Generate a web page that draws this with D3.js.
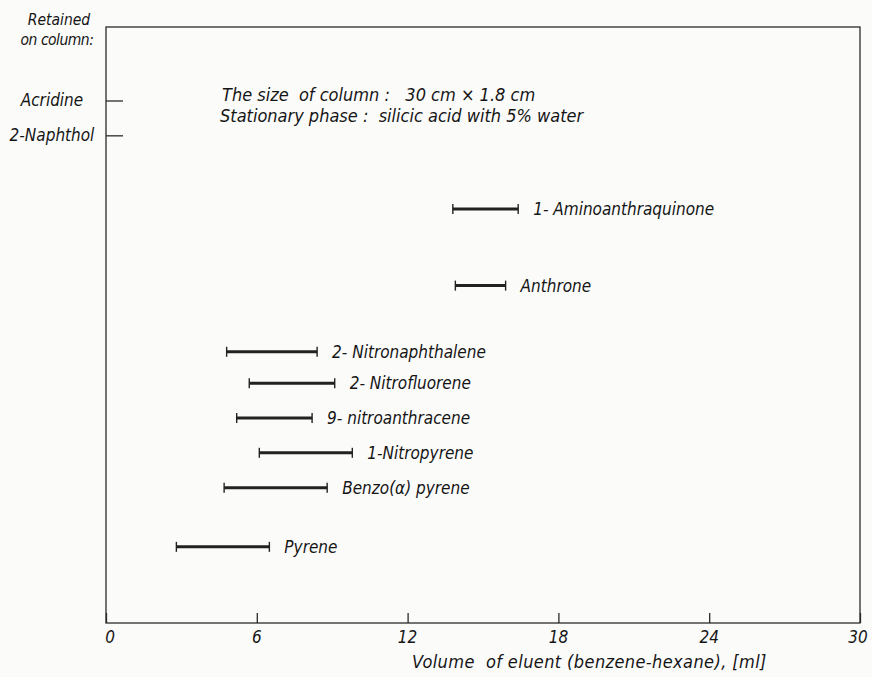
<!DOCTYPE html>
<html>
<head>
<meta charset="utf-8">
<title>Elution ranges on silicic acid column</title>
<script src="https://cdn.jsdelivr.net/npm/d3@7"></script>
<style>
  body { margin: 0; background: #fbfbfa; }
  svg text { font-family: "DejaVu Sans Condensed", "Liberation Sans Narrow", sans-serif; font-style: italic; fill: #151515; }
</style>
</head>
<body>
<div id="chart"></div>
<script>

// compounds eluted, with the eluent volume range (ml)
var compounds = ["1- Aminoanthraquinone", "Anthrone", "2- Nitronaphthalene", "2- Nitrofluorene",
                 "9- nitroanthracene", "1-Nitropyrene", "Benzo(\u03b1) pyrene", "Pyrene"];
var startVol = [13.8, 13.9, 4.8, 5.7, 5.2, 6.1, 4.7, 2.8];
var endVol   = [16.4, 15.9, 8.4, 9.1, 8.2, 9.8, 8.8, 6.5];
// row (vertical slot) of each compound
var rowPos   = [4.1, 6.3, 8.2, 9.1, 10.1, 11.1, 12.1, 13.8];

// compounds that stay on the column
var retained = ["Acridine", "2-Naphthol"];
var retainedRow = [1, 2];

var xTicks = [0, 6, 12, 18, 24, 30];

var width = 872, height = 677;
var mLeft = 106, mRight = 860, mTop = 27, mBottom = 623;

var svg = d3.select("#chart").append("svg")
    .attr("width", width)
    .attr("height", height);

var x = d3.scaleLinear().domain([0, 30]).range([mLeft, mRight]);
var y = d3.scaleLinear().domain([1, 15.9]).range([101, 620]);

// frame
svg.append("rect")
    .attr("x", mLeft).attr("y", mTop)
    .attr("width", mRight - mLeft).attr("height", mBottom - mTop)
    .style("fill", "none").style("stroke", "#2a2a2a").style("stroke-width", 1.3);

// x axis, ticks pointing inward
var xAxis = d3.axisTop(x).tickValues(xTicks).tickSize(10).tickFormat("");
svg.append("g")
    .attr("transform", "translate(0," + mBottom + ")")
    .call(xAxis)
    .call(function(g) {
        g.select(".domain").remove();
        g.selectAll("line").style("stroke", "#2a2a2a").style("stroke-width", 1.3);
    });

svg.selectAll(".xlab")
    .data(xTicks)
    .enter().append("text")
    .attr("class", "xlab")
    .attr("x", function(d) { return x(d) + (d === 0 ? 4 : d === 30 ? -2 : 0); })
    .attr("y", 643)
    .attr("text-anchor", "middle")
    .style("font-size", "17px")
    .text(function(d) { return d; });

svg.append("text")
    .attr("x", 412).attr("y", 668)
    .style("font-size", "18px")
    .style("letter-spacing", "0.4px")
    .attr("xml:space", "preserve")
    .text("Volume  of eluent (benzene-hexane), [ml]");

// retained compounds on the left
svg.append("text")
    .attr("x", 59).attr("y", 25)
    .attr("text-anchor", "middle")
    .style("font-size", "15.5px")
    .text("Retained");
svg.append("text")
    .attr("x", 57).attr("y", 45)
    .attr("text-anchor", "middle")
    .style("font-size", "15.5px")
    .style("letter-spacing", "-0.5px")
    .text("on column:");

svg.selectAll(".ret")
    .data(retained)
    .enter().append("text")
    .attr("class", "ret")
    .attr("x", 52)
    .attr("y", function(d, i) { return y(retainedRow[i]) + 5; })
    .attr("text-anchor", "middle")
    .style("font-size", "17px")
    .text(function(d) { return d; });

svg.selectAll(".retline")
    .data(retained)
    .enter().append("line")
    .attr("x1", mLeft).attr("x2", mLeft + 17)
    .attr("y1", function(d, i) { return y(retainedRow[i]); })
    .attr("y2", function(d, i) { return y(retainedRow[i]); })
    .style("stroke", "#2a2a2a").style("stroke-width", 1.3);

// column conditions
svg.append("text")
    .attr("x", 222).attr("y", 101)
    .style("font-size", "18px")
    .attr("xml:space", "preserve")
    .text("The size  of column :   30 cm \u00d7 1.8 cm");
svg.append("text")
    .attr("x", 220).attr("y", 122)
    .style("font-size", "18px")
    .attr("xml:space", "preserve")
    .text("Stationary phase :  silicic acid with 5% water");

// elution ranges
var bars = svg.selectAll(".range")
    .data(compounds)
    .enter().append("g")
    .attr("class", "range")
    .attr("transform", function(d, i) { return "translate(0," + y(rowPos[i]) + ")"; });

bars.append("line")
    .attr("x1", function(d, i) { return x(startVol[i]); })
    .attr("x2", function(d, i) { return x(endVol[i]); })
    .style("stroke", "#222").style("stroke-width", 3);

bars.append("line")
    .attr("x1", function(d, i) { return x(startVol[i]); })
    .attr("x2", function(d, i) { return x(startVol[i]); })
    .attr("y1", -5).attr("y2", 5)
    .style("stroke", "#222").style("stroke-width", 1.4);

bars.append("line")
    .attr("x1", function(d, i) { return x(endVol[i]); })
    .attr("x2", function(d, i) { return x(endVol[i]); })
    .attr("y1", -5).attr("y2", 5)
    .style("stroke", "#222").style("stroke-width", 1.4);

bars.append("text")
    .attr("x", function(d, i) { return x(endVol[i]) + 15; })
    .attr("y", 6)
    .style("font-size", "17px")
    .text(function(d) { return d; });

</script>
</body>
</html>
